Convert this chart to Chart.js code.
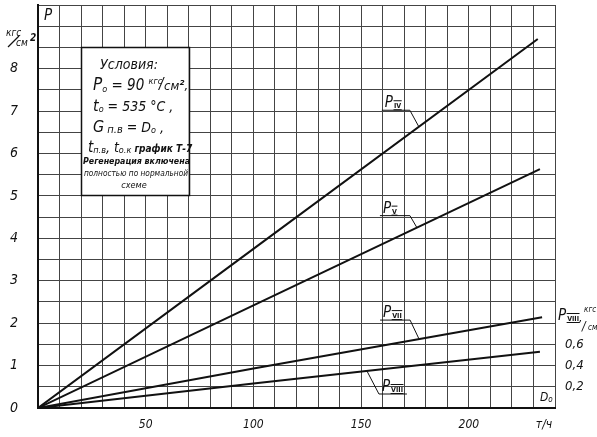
<!DOCTYPE html>
<html>
<head>
<meta charset="utf-8">
<script src="https://cdn.jsdelivr.net/npm/chart.js@4/dist/chart.umd.min.js"></script>
<style>
  html, body { margin: 0; padding: 0; background: #fff; }
  #wrap { width: 597px; height: 437px; }
</style>
</head>
<body>
<div id="wrap"><canvas id="chart" width="597" height="437"></canvas></div>
<script>
// Steam flow through the turbine D0, t/h
const flowIV = [0, 100, 232];
const flowV = [0, 100, 233];
const flowVII = [0, 100, 234];
const flowVIII = [0, 100, 233];

// Extraction pressures, kgf/cm² (VIII on its own right-hand scale)
const pressIV = [0, 3.75, 8.70];
const pressV = [0, 2.42, 5.63];
const pressVII = [0, 0.93, 2.14];
const pressVIII = [0, 0.23, 0.53];

// Tick labels
const flowTickLabels = [50, 100, 150, 200];
const pressTickLabels = [0, 1, 2, 3, 4, 5, 6, 7, 8];
const lowPressTickLabels = ['0,2', '0,4', '0,6'];

const HAND = '"DejaVu Sans Condensed", "DejaVu Sans", sans-serif';
const INK = '#111';

function toPoints(xs, ys) { return xs.map((x, i) => ({ x: x, y: ys[i] })); }

function valueAt(xs, ys, x) {
  for (let i = 1; i < xs.length; i++) {
    if (x <= xs[i]) {
      const t = (x - xs[i - 1]) / (xs[i] - xs[i - 1]);
      return ys[i - 1] + t * (ys[i] - ys[i - 1]);
    }
  }
  return ys[ys.length - 1];
}

function font(size, weight, style) {
  return (style || 'italic') + ' ' + (weight || 'normal') + ' ' + size + 'px ' + HAND;
}

// Draws a run of text pieces: [text, size, baselineShift, weight]
function drawRun(ctx, x, y, parts) {
  let cx = x;
  parts.forEach(p => {
    ctx.font = font(p[1], p[3]);
    ctx.fillText(p[0], cx, y + (p[2] || 0));
    cx += ctx.measureText(p[0]).width;
  });
  return cx;
}

// "P" with a small roman-numeral index between two bars
function drawPressureSymbol(ctx, x, y, numeral) {
  ctx.font = font(15);
  ctx.textAlign = 'left';
  ctx.textBaseline = 'alphabetic';
  ctx.fillText('P', x, y);
  const sx = x + ctx.measureText('P').width + 1;
  ctx.font = font(7, 'bold', 'normal');
  const w = ctx.measureText(numeral).width;
  ctx.fillText(numeral, sx, y + 1);
  ctx.lineWidth = 1;
  ctx.beginPath();
  ctx.moveTo(sx - 0.5, y - 6.5); ctx.lineTo(sx + w + 0.5, y - 6.5);
  ctx.moveTo(sx - 0.5, y + 2.5); ctx.lineTo(sx + w + 0.5, y + 2.5);
  ctx.stroke();
  return sx + w;
}

const curveLabels = [
  { numeral: 'IV', xs: flowIV, ys: pressIV, axis: 'y', at: 176.8, ux0: -37, ux1: -9, uy: -16.5, from: 'end' },
  { numeral: 'V', xs: flowV, ys: pressV, axis: 'y', at: 175.9, ux0: -37, ux1: -7, uy: -12, from: 'end' },
  { numeral: 'VII', xs: flowVII, ys: pressVII, axis: 'y', at: 176.9, ux0: -39, ux1: -9, uy: -19, from: 'end' },
  { numeral: 'VIII', xs: flowVIII, ys: pressVIII, axis: 'y1', at: 152.7, ux0: 12, ux1: 40, uy: 23, from: 'start' }
];

const annotations = {
  id: 'annotations',
  beforeDatasetsDraw(chart) {
    // conditions panel
    const ctx = chart.ctx;
    const x = chart.scales.x, y = chart.scales.y;
    const bx0 = x.getPixelForValue(20), bx1 = x.getPixelForValue(70);
    const by0 = y.getPixelForValue(8.5), by1 = y.getPixelForValue(5);
    ctx.save();
    ctx.fillStyle = '#fff';
    ctx.fillRect(bx0, by0, bx1 - bx0, by1 - by0);
    ctx.strokeStyle = INK;
    ctx.lineWidth = 1.5;
    ctx.strokeRect(Math.round(bx0) + 0.5, Math.round(by0) + 0.5, Math.round(bx1 - bx0), Math.round(by1 - by0));
    ctx.fillStyle = INK;
    ctx.textBaseline = 'alphabetic';
    ctx.textAlign = 'center';
    ctx.font = font(14);
    ctx.fillText('Условия:', 129, 69);
    ctx.textAlign = 'left';
    let e = drawRun(ctx, 93, 90, [['P', 17], ['o', 9, 2], [' = 90 ', 15], ['кгс', 9, -6]]);
    ctx.font = font(15); ctx.fillText('/', e - 3, 89);
    drawRun(ctx, e + 2, 90, [['см', 13], ['²', 13, -1, 'bold'], [',', 13]]);
    drawRun(ctx, 93, 111, [['t', 16], ['o', 9, 1], [' = 535 °C ,', 14]]);
    drawRun(ctx, 93, 132, [['G', 16], [' п.в', 11, 1], [' = ', 14], ['D', 14], ['o', 9, 1], [' ,', 14]]);
    drawRun(ctx, 88, 152, [['t', 15], ['п.в', 9, 1], [', t', 14], ['о.к', 9, 1], [' график Т-7', 10, 0, 'bold']]);
    ctx.font = font(9.5, 'bold');
    ctx.fillText('Регенерация включена', 83, 164, 107);
    ctx.font = font(8.5);
    ctx.fillText('полностью по нормальной', 84, 176, 104);
    ctx.textAlign = 'center';
    ctx.font = font(9);
    ctx.fillText('схеме', 134, 188);
    ctx.restore();
  },
  afterDraw(chart) {
    const ctx = chart.ctx;
    const x = chart.scales.x;
    ctx.save();
    ctx.fillStyle = INK;
    ctx.strokeStyle = INK;

    // curve labels with leaders
    curveLabels.forEach(c => {
      const ax = x.getPixelForValue(c.at);
      const ay = chart.scales[c.axis].getPixelForValue(valueAt(c.xs, c.ys, c.at));
      const u0 = ax + c.ux0, u1 = ax + c.ux1, uy = ay + c.uy;
      ctx.lineWidth = 1;
      ctx.beginPath();
      ctx.moveTo(u0, uy); ctx.lineTo(u1, uy);
      if (c.from === 'end') ctx.lineTo(ax, ay); else { ctx.moveTo(u0, uy); ctx.lineTo(ax, ay); }
      ctx.stroke();
      drawPressureSymbol(ctx, u0 + 3, uy - 3, c.numeral);
    });

    // axis titles
    ctx.textAlign = 'left';
    ctx.textBaseline = 'alphabetic';
    ctx.font = font(15);
    ctx.fillText('P', 44, 20);
    ctx.font = font(10);
    ctx.fillText('кгс', 6, 36);
    ctx.lineWidth = 1.2;
    ctx.beginPath(); ctx.moveTo(8, 47); ctx.lineTo(19, 36); ctx.stroke();
    ctx.fillText('см', 16, 46);
    ctx.font = font(10, 'bold');
    ctx.fillText('2', 30, 41);

    const e = drawPressureSymbol(ctx, 558, 320, 'VIII');
    ctx.font = font(12); ctx.fillText(',', e, 322);
    ctx.font = font(8); ctx.fillText('кгс', e + 5, 312);
    ctx.font = font(12); ctx.fillText('/', e + 3, 330);
    ctx.font = font(8); ctx.fillText('см', e + 9, 330);
    ctx.font = font(7); ctx.fillText('2', e + 19, 325);

    // flow symbol in the corner cell and units
    drawRun(ctx, 540, 401, [['D', 12], ['o', 8, 1]]);
    ctx.textAlign = 'center';
    ctx.font = font(12);
    ctx.fillText('т/ч', 544, 428);
    ctx.restore();
  }
};

const lineStyle = { borderColor: INK, borderWidth: 2, pointRadius: 0, tension: 0, fill: false };

// vertical axes keep their label offset but take no extra room above/below the plot
function fitVertical(width) {
  return s => { s.width = width; s.paddingTop = 0; s.paddingBottom = 0; };
}

new Chart(document.getElementById('chart'), {
  type: 'line',
  data: {
    datasets: [
      Object.assign({ label: 'P IV', data: toPoints(flowIV, pressIV), yAxisID: 'y' }, lineStyle),
      Object.assign({ label: 'P V', data: toPoints(flowV, pressV), yAxisID: 'y' }, lineStyle),
      Object.assign({ label: 'P VII', data: toPoints(flowVII, pressVII), yAxisID: 'y' }, lineStyle),
      Object.assign({ label: 'P VIII', data: toPoints(flowVIII, pressVIII), yAxisID: 'y1' }, lineStyle)
    ]
  },
  options: {
    responsive: false,
    animation: false,
    devicePixelRatio: 1,
    layout: { autoPadding: false, padding: { top: 5, left: 0, right: 0, bottom: 0 } },
    plugins: { legend: { display: false }, tooltip: { enabled: false } },
    scales: {
      x: {
        type: 'linear', min: 0, max: 240,
        afterFit(s) { s.height = 29; s.paddingLeft = 0; s.paddingRight = 0; },
        grid: { color: '#444', lineWidth: 1, drawTicks: false },
        border: { display: true, color: INK, width: 2 },
        ticks: {
          stepSize: 10, autoSkip: false, maxRotation: 0, padding: 10, color: INK,
          font: { family: HAND, size: 12, style: 'italic' },
          callback: v => flowTickLabels.includes(v) ? String(v) : ''
        }
      },
      y: {
        type: 'linear', position: 'left', min: 0, max: 9.5,
        afterFit: fitVertical(38),
        grid: { color: '#444', lineWidth: 1, drawTicks: false },
        border: { display: true, color: INK, width: 2 },
        ticks: {
          stepSize: 0.5, autoSkip: false, padding: 20, color: INK,
          font: { family: HAND, size: 14, style: 'italic' },
          callback: v => pressTickLabels.includes(v) ? String(v) : ''
        }
      },
      y1: {
        type: 'linear', position: 'right', min: 0, max: 3.8,
        afterFit: fitVertical(42),
        grid: { display: false, drawTicks: false },
        border: { display: false },
        ticks: {
          stepSize: 0.2, autoSkip: false, padding: 10, color: INK,
          font: { family: HAND, size: 13, style: 'italic' },
          callback: v => {
            const r = Math.round(v * 10);
            return (r >= 2 && r <= 6 && r % 2 === 0) ? lowPressTickLabels[r / 2 - 1] : '';
          }
        }
      }
    }
  },
  plugins: [annotations]
});
</script>
</body>
</html>
